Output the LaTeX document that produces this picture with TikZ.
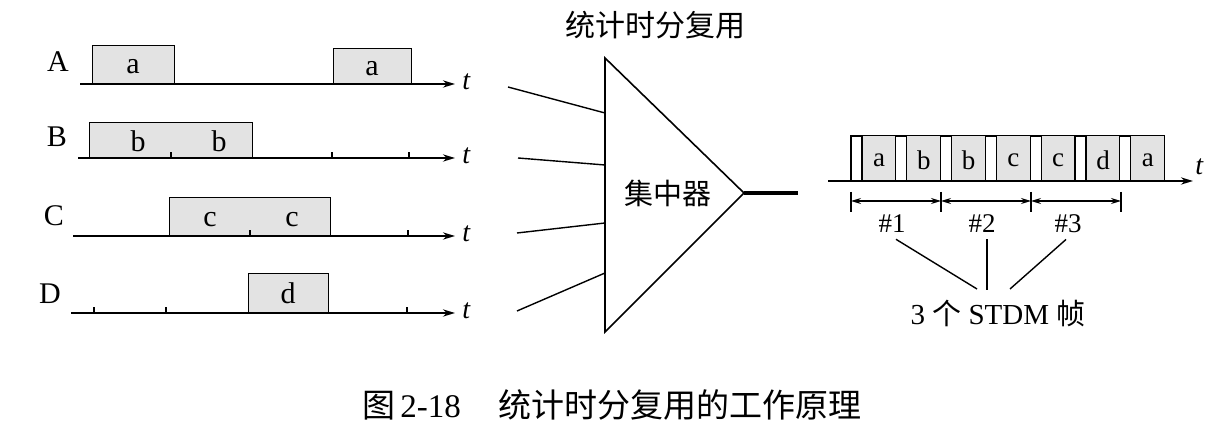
\documentclass[tikz,border=0pt]{standalone}
\usepackage{fontspec}
\setmainfont{Liberation Serif}
\newfontfamily\cjk{Noto Sans CJK SC}
\usetikzlibrary{arrows.meta}
\begin{document}
\begin{tikzpicture}[x=0.5pt,y=-0.5pt,
  axis/.style={line width=1.4pt,-{Stealth[length=6pt,width=3.6pt]}},
  pkt/.style={draw,line width=0.5pt,fill=gray!22},
  lbl/.style={inner sep=0pt,font=\fontsize{15}{17}\selectfont},
  boxlbl/.style={inner sep=0pt,font=\fontsize{15}{17}\selectfont},
  slotlbl/.style={inner sep=0pt,font=\fontsize{13.5}{15}\selectfont},
  hashlbl/.style={inner sep=0pt,font=\fontsize{13.5}{15}\selectfont},
  tlbl/.style={inner sep=0pt,font=\fontsize{14}{16}\selectfont\itshape},
  tick/.style={line width=0.6pt},
  thin/.style={line width=0.7pt},
  dim/.style={line width=0.6pt,{Stealth[length=5pt,width=3pt]}-{Stealth[length=5pt,width=3pt]}},
  cjkl/.style={inner sep=0pt,font=\fontsize{14.5}{16}\selectfont\cjk}]
\useasboundingbox (0,0) rectangle (1212,426);

% ---- row A
\draw[pkt] (92,46) rectangle (174,84);
\draw[pkt] (333,49) rectangle (411,84);
\coordinate (A0) at (80,84); \coordinate (A1) at (455,84);
\draw[axis] (A0) -- (A1);
\node[lbl] (lA) at (58,62) {A};
\node[boxlbl] (a1) at (133,67) {a};
\node[boxlbl] (a2) at (372,69) {a};
\node[tlbl,anchor=west] (tA) at (462,82) {t};

% ---- row B
\draw[pkt] (89,123) rectangle (252,158);
\coordinate (B0) at (78,158); \coordinate (B1) at (455,158);
\draw[axis] (B0) -- (B1);
\foreach \x in {171,332,409} \draw[tick] (\x,158) -- (\x,152);
\node[lbl] (lB) at (57,137) {B};
\node[boxlbl] (b1) at (138,141) {b};
\node[boxlbl] (b2) at (219,141) {b};
\node[tlbl,anchor=west] (tB) at (462,156) {t};

% ---- row C
\draw[pkt] (169,198) rectangle (330,236);
\coordinate (C0) at (73,236); \coordinate (C1) at (455,236);
\draw[axis] (C0) -- (C1);
\foreach \x in {250,408} \draw[tick] (\x,236) -- (\x,230);
\node[lbl] (lC) at (54,216) {C};
\node[boxlbl] (c1) at (210,220) {c};
\node[boxlbl] (c2) at (292,220) {c};
\node[tlbl,anchor=west] (tC) at (462,234) {t};

% ---- row D
\draw[pkt] (248,274) rectangle (328,313);
\coordinate (D0) at (71,313); \coordinate (D1) at (455,313);
\draw[axis] (D0) -- (D1);
\foreach \x in {94,166,407} \draw[tick] (\x,313) -- (\x,307);
\node[lbl] (lD) at (50,294) {D};
\node[boxlbl] (d1) at (288,293) {d};
\node[tlbl,anchor=west] (tD) at (462,311) {t};

% ---- concentrator
\coordinate (T1) at (605,58);
\coordinate (T2) at (744,193);
\coordinate (T3) at (605,332);
\draw[line width=0.8pt,line join=miter] (T1) -- (T2) -- (T3) -- cycle;
\node[cjkl] (conc) at (668,193) {集中器};
\node[cjkl,font=\fontsize{15}{17}\selectfont\cjk] (title) at (655,25) {统计时分复用};
\coordinate (i1) at (508,87);  \coordinate (e1) at (605,113);
\coordinate (i2) at (518,158); \coordinate (e2) at (605,165);
\coordinate (i3) at (517,233); \coordinate (e3) at (605,223);
\coordinate (i4) at (517,311); \coordinate (e4) at (605,273);
\draw[thin] (i1) -- (e1);
\draw[thin] (i2) -- (e2);
\draw[thin] (i3) -- (e3);
\draw[thin] (i4) -- (e4);
\coordinate (out) at (798,193);
\draw[line width=2pt] (T2) -- (out);

% ---- STDM frames
\foreach \i/\l in {0/a,1/b,2/b,3/c,4/c,5/d,6/a} {
  \pgfmathsetmacro\s{851+44.8*\i}
  \draw[line width=0.6pt,fill=white] (\s,181) rectangle (\s+11,136);
  \draw[pkt] (\s+11,181) rectangle (\s+44.8,136);
  \node[slotlbl] (s\i) at (\s+28,160) {\l};
}
\coordinate (R0) at (828,181); \coordinate (R1) at (1193,181);
\draw[axis,line width=1.3pt] (R0) -- (R1);
\node[tlbl,anchor=west] (tR) at (1195,167) {t};

\foreach \k/\x in {0/851,1/941,2/1031,3/1121} {
  \coordinate (f\k) at (\x,201);
  \draw[line width=0.7pt] (\x,192) -- (\x,212);
}
\draw[dim] (f0) -- (f1);
\draw[dim] (f1) -- (f2);
\draw[dim] (f2) -- (f3);

\node[hashlbl] (h1) at (892,224) {\#1};
\node[hashlbl] (h2) at (982,224) {\#2};
\node[hashlbl] (h3) at (1068,224) {\#3};
\node[inner sep=0pt,font=\fontsize{14.5}{16}\selectfont] (fr) at (998,313) {3 {\cjk 个} STDM {\cjk 帧}};
\coordinate (g1) at (977,289);
\coordinate (g2) at (987,290);
\coordinate (g3) at (1010,289);
\draw[thin] ([xshift=2pt,yshift=-3pt]h1.south) -- (g1);
\draw[thin] ([xshift=2.5pt,yshift=-3pt]h2.south) -- (g2);
\draw[thin] ([xshift=-1pt,yshift=-3pt]h3.south) -- (g3);

% ---- caption
\node[inner sep=0pt,anchor=west,font=\fontsize{16.5}{18}\selectfont] (cap) at (362,405)
  {{\cjk 图}\hspace{0.15em}2-18\hspace{1.15em}{\cjk 统计时分复用的工作原理}};
\end{tikzpicture}
\end{document}
